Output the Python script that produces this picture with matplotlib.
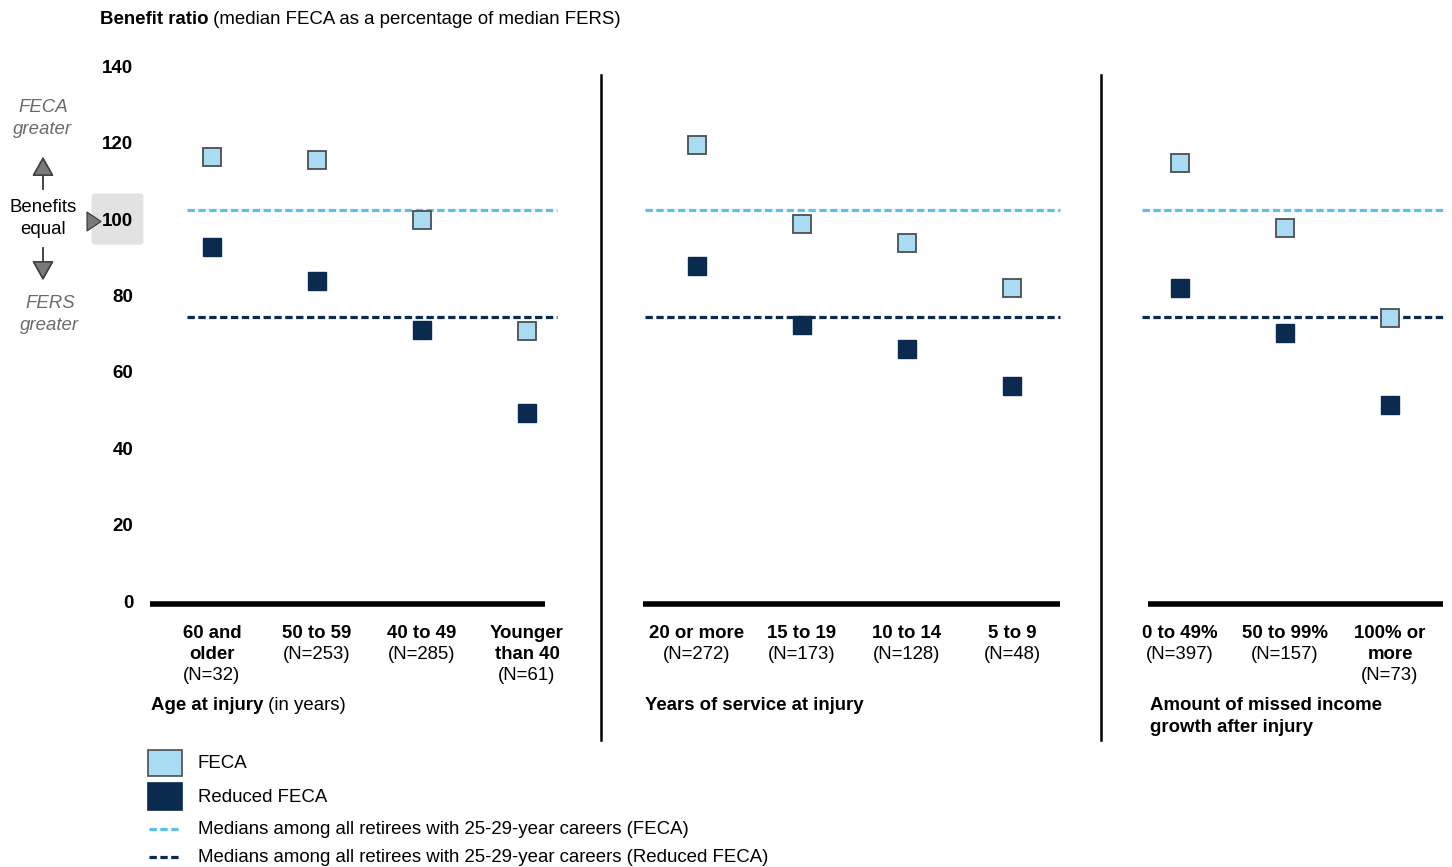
import matplotlib.pyplot as plt
from matplotlib.patches import Rectangle, FancyBboxPatch, Polygon
from matplotlib.lines import Line2D
from matplotlib.transforms import blended_transform_factory

plt.rcParams['font.family'] = ['Liberation Sans', 'DejaVu Sans']

# Data (benefit ratio, %)
age_cats = ['60 and\nolder', '50 to 59', '40 to 49', 'Younger\nthan 40']
age_n = [32, 253, 285, 61]
age_feca = [116.3, 115.4, 99.7, 70.7]
age_reduced = [92.7, 83.8, 70.9, 49.3]

service_cats = ['20 or more', '15 to 19', '10 to 14', '5 to 9']
service_n = [272, 173, 128, 48]
service_feca = [119.4, 98.7, 93.8, 81.9]
service_reduced = [87.8, 72.2, 66.0, 56.3]

income_cats = ['0 to 49%', '50 to 99%', '100% or\nmore']
income_n = [397, 157, 73]
income_feca = [114.6, 97.7, 74.0]
income_reduced = [81.9, 70.1, 51.3]

median_feca = 102.4
median_reduced = 74.4

y_ticks = [0, 20, 40, 60, 80, 100, 120, 140]

feca_fill = '#A9DBF3'
feca_edge = '#4A4F55'
navy = '#0B2A50'
median_light = '#5CC0EC'
FS = 13.4

W, H = 1452, 867
fig = plt.figure(figsize=(W / 100, H / 100), dpi=100)


def fx(x):
    return x / W


def fy(y):
    return 1 - y / H


# pixel -> value mapping of the y axis
Y0, PPU = 601, 3.82
top_px, bot_px = 60, 610
ylim = ((Y0 - bot_px) / PPU, (Y0 - top_px) / PPU)

# panel layout: (axes left px, axes right px, first point px, bar ends px, dash ends px)
STEP = 105
panels = [
    (age_cats, age_n, age_feca, age_reduced, 150, 560, 212, (150, 545), (187, 557),
     [('Age at injury', 'bold'), (' (in years)', 'normal')], 151),
    (service_cats, service_n, service_feca, service_reduced, 640, 1065, 697, (643, 1060), (645, 1060),
     [('Years of service at injury', 'bold')], 645),
    (income_cats, income_n, income_feca, income_reduced, 1140, 1448, 1180, (1148, 1443), (1142, 1443),
     [('Amount of missed income\ngrowth after injury', 'bold')], 1150),
]

fig.canvas.draw()
renderer = fig.canvas.get_renderer()

for i, (cats, ns, feca, red, l, r, p0, bar, dash, title, tx) in enumerate(panels):
    ax = fig.add_axes([fx(l), fy(bot_px), (r - l) / W, (bot_px - top_px) / H])
    to_x = lambda px: (px - p0) / STEP
    ax.set_xlim(to_x(l), to_x(r))
    ax.set_ylim(*ylim)
    for s in ax.spines.values():
        s.set_visible(False)
    ax.set_xticks([])
    if i == 0:
        ax.set_yticks(y_ticks)
        ax.set_yticklabels([str(t) for t in y_ticks], fontsize=13.5, fontweight='bold')
        ax.tick_params(axis='y', length=0, pad=12)
    else:
        ax.set_yticks([])

    pos = list(range(len(cats)))
    # baseline bar
    ax.plot([to_x(bar[0]), to_x(bar[1])], [-0.8, -0.8], color='black', lw=4, solid_capstyle='butt')
    # median lines
    ax.plot([to_x(dash[0]), to_x(dash[1])], [median_feca] * 2, color=median_light, lw=2.3,
            dashes=(2.3, 1.1), zorder=2)
    ax.plot([to_x(dash[0]), to_x(dash[1])], [median_reduced] * 2, color=navy, lw=2.3,
            dashes=(2.3, 1.1), zorder=2)
    ax.plot(pos, red, 's', ms=13, color=navy, mec=navy, zorder=3)
    ax.plot(pos, feca, 's', ms=12.5, mfc=feca_fill, mec=feca_edge, mew=1.3, zorder=4)

    # category labels
    tr = blended_transform_factory(ax.transData, fig.transFigure)
    for p, c, n in zip(pos, cats, ns):
        lines = c.split('\n')
        for k, line in enumerate(lines):
            ax.text(p, fy(633 + 21.5 * k), line, transform=tr, ha='center', va='center',
                    fontsize=FS, fontweight='bold')
        ax.text(p, fy(633 + 21.5 * len(lines)), f'(N={n})', transform=tr, ha='center',
                va='center', fontsize=FS)

    # panel title
    x0 = fx(tx)
    for txt, wt in title:
        for k, line in enumerate(txt.split('\n')):
            t = fig.text(x0, fy(705 + 22 * k), line, fontsize=FS, fontweight=wt, ha='left', va='center')
        bb = t.get_window_extent(renderer)
        x0 = bb.x1 / W

# vertical separators
for xs in (601, 1101):
    fig.add_artist(Line2D([fx(xs), fx(xs)], [fy(75), fy(740)], color='black', lw=1.8))

# title
t1 = fig.text(fx(100), fy(19), 'Benefit ratio', fontsize=FS, fontweight='bold', va='center')
bb = t1.get_window_extent(renderer)
fig.text(bb.x1 / W, fy(19), ' (median FECA as a percentage of median FERS)', fontsize=FS, va='center')

# left side annotation
gray = '#6B6B6B'
fig.add_artist(FancyBboxPatch((fx(96), fy(242)), (139 - 96) / W, (242 - 196) / H,
                              boxstyle='round,pad=0.003', transform=fig.transFigure,
                              fc='#E2E2E2', ec='none', zorder=0))
fig.add_artist(Polygon([(fx(87), fy(212)), (fx(87), fy(231)), (fx(101), fy(221.5))],
                       closed=True, transform=fig.transFigure, fc='#7A7A7A', ec='#333333', lw=0.8))
fig.text(fx(43), fy(108), 'FECA', fontsize=FS, style='italic', color=gray, ha='center', va='center')
fig.text(fx(43), fy(129), 'greater', fontsize=FS, style='italic', color=gray, ha='center', va='center')
fig.text(fx(43), fy(208), 'Benefits', fontsize=FS, ha='center', va='center')
fig.text(fx(43), fy(229), 'equal', fontsize=FS, ha='center', va='center')
fig.text(fx(50), fy(303), 'FERS', fontsize=FS, style='italic', color=gray, ha='center', va='center')
fig.text(fx(50), fy(325), 'greater', fontsize=FS, style='italic', color=gray, ha='center', va='center')
arrow = dict(arrowstyle='-|>,head_length=0.8,head_width=0.45', mutation_scale=15,
             color='#444444', fc='#7A7A7A', lw=1.2)
fig.add_artist(plt.annotate('', xy=(fx(43), fy(154)), xytext=(fx(43), fy(192)),
                            xycoords='figure fraction', arrowprops=arrow))
fig.add_artist(plt.annotate('', xy=(fx(43), fy(283)), xytext=(fx(43), fy(245)),
                            xycoords='figure fraction', arrowprops=arrow))

# legend
fig.add_artist(Rectangle((fx(148), fy(776)), 34 / W, 26 / H, transform=fig.transFigure,
                         fc=feca_fill, ec=feca_edge, lw=1.2))
fig.add_artist(Rectangle((fx(148), fy(810)), 34 / W, 27 / H, transform=fig.transFigure,
                         fc=navy, ec=navy, lw=1.2))
fig.add_artist(Line2D([fx(149), fx(180)], [fy(829)] * 2, color=median_light, lw=2.3, dashes=(2.3, 1.1)))
fig.add_artist(Line2D([fx(149), fx(180)], [fy(857)] * 2, color=navy, lw=2.3, dashes=(2.3, 1.1)))
legend_labels = ['FECA', 'Reduced FECA',
                 'Medians among all retirees with 25-29-year careers (FECA)',
                 'Medians among all retirees with 25-29-year careers (Reduced FECA)']
for yy, lab in zip([763, 797, 829, 857], legend_labels):
    fig.text(fx(198), fy(yy), lab, fontsize=FS, va='center')

fig.savefig('out.png', dpi=100)
